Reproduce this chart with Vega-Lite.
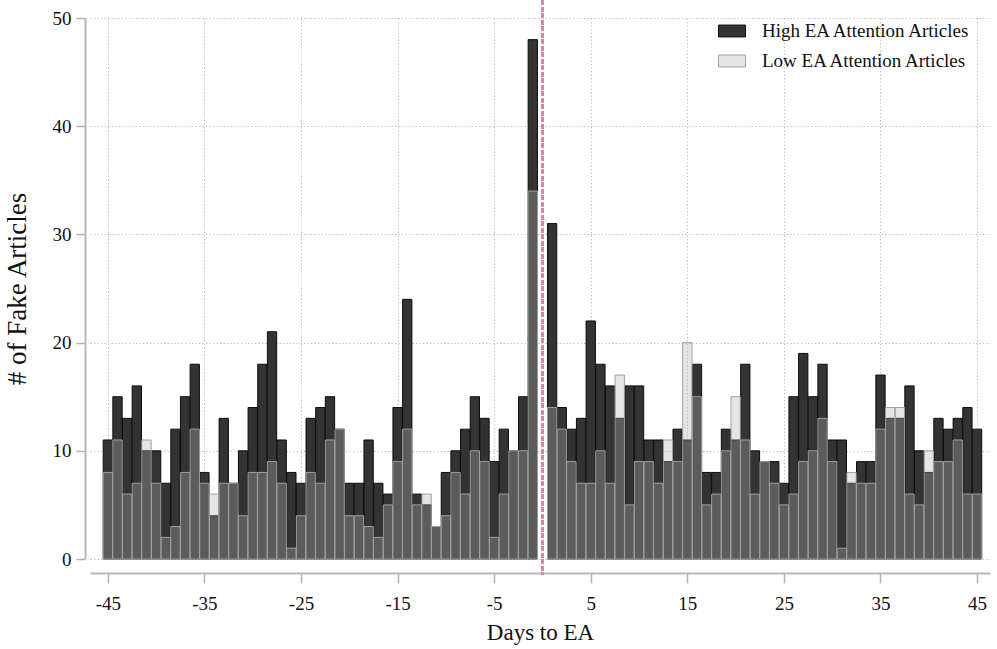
{
  "$schema": "https://vega.github.io/schema/vega-lite/v6.json",
  "autosize": "none",
  "width": 900,
  "height": 541,
  "padding": {"left": 90, "top": 18, "right": 7, "bottom": 90},
  "background": "white",
  "config": {
    "view": {"stroke": null},
    "font": "Liberation Serif",
    "axis": {
      "labelFont": "Liberation Serif",
      "titleFont": "Liberation Serif",
      "labelColor": "#111111",
      "titleColor": "#111111",
      "labelFontSize": 19,
      "titleFontSize": 23,
      "titleFontWeight": "normal",
      "domainColor": "#b8b8b8",
      "domainWidth": 2,
      "tickColor": "#b0b0b0",
      "tickWidth": 1.5,
      "tickSize": 10,
      "grid": true,
      "gridColor": "#bdbdbd",
      "gridDash": [1.3, 2.2],
      "gridWidth": 1,
      "labelExpr": "'' + datum.value"
    },
    "legend": {
      "labelFont": "Liberation Serif",
      "labelFontSize": 19,
      "labelColor": "#111111",
      "labelLimit": 0
    }
  },
  "data": {
    "values": [
      {"day": -45, "group": "High EA Attention Articles", "n": 11},
      {"day": -44, "group": "High EA Attention Articles", "n": 15},
      {"day": -43, "group": "High EA Attention Articles", "n": 13},
      {"day": -42, "group": "High EA Attention Articles", "n": 16},
      {"day": -41, "group": "High EA Attention Articles", "n": 10},
      {"day": -40, "group": "High EA Attention Articles", "n": 10},
      {"day": -39, "group": "High EA Attention Articles", "n": 7},
      {"day": -38, "group": "High EA Attention Articles", "n": 12},
      {"day": -37, "group": "High EA Attention Articles", "n": 15},
      {"day": -36, "group": "High EA Attention Articles", "n": 18},
      {"day": -35, "group": "High EA Attention Articles", "n": 8},
      {"day": -34, "group": "High EA Attention Articles", "n": 4},
      {"day": -33, "group": "High EA Attention Articles", "n": 13},
      {"day": -32, "group": "High EA Attention Articles", "n": 7},
      {"day": -31, "group": "High EA Attention Articles", "n": 10},
      {"day": -30, "group": "High EA Attention Articles", "n": 14},
      {"day": -29, "group": "High EA Attention Articles", "n": 18},
      {"day": -28, "group": "High EA Attention Articles", "n": 21},
      {"day": -27, "group": "High EA Attention Articles", "n": 11},
      {"day": -26, "group": "High EA Attention Articles", "n": 8},
      {"day": -25, "group": "High EA Attention Articles", "n": 7},
      {"day": -24, "group": "High EA Attention Articles", "n": 13},
      {"day": -23, "group": "High EA Attention Articles", "n": 14},
      {"day": -22, "group": "High EA Attention Articles", "n": 15},
      {"day": -21, "group": "High EA Attention Articles", "n": 12},
      {"day": -20, "group": "High EA Attention Articles", "n": 7},
      {"day": -19, "group": "High EA Attention Articles", "n": 7},
      {"day": -18, "group": "High EA Attention Articles", "n": 11},
      {"day": -17, "group": "High EA Attention Articles", "n": 7},
      {"day": -16, "group": "High EA Attention Articles", "n": 6},
      {"day": -15, "group": "High EA Attention Articles", "n": 14},
      {"day": -14, "group": "High EA Attention Articles", "n": 24},
      {"day": -13, "group": "High EA Attention Articles", "n": 6},
      {"day": -12, "group": "High EA Attention Articles", "n": 5},
      {"day": -11, "group": "High EA Attention Articles", "n": 3},
      {"day": -10, "group": "High EA Attention Articles", "n": 8},
      {"day": -9, "group": "High EA Attention Articles", "n": 10},
      {"day": -8, "group": "High EA Attention Articles", "n": 12},
      {"day": -7, "group": "High EA Attention Articles", "n": 15},
      {"day": -6, "group": "High EA Attention Articles", "n": 13},
      {"day": -5, "group": "High EA Attention Articles", "n": 9},
      {"day": -4, "group": "High EA Attention Articles", "n": 12},
      {"day": -3, "group": "High EA Attention Articles", "n": 10},
      {"day": -2, "group": "High EA Attention Articles", "n": 15},
      {"day": -1, "group": "High EA Attention Articles", "n": 48},
      {"day": 1, "group": "High EA Attention Articles", "n": 31},
      {"day": 2, "group": "High EA Attention Articles", "n": 14},
      {"day": 3, "group": "High EA Attention Articles", "n": 12},
      {"day": 4, "group": "High EA Attention Articles", "n": 13},
      {"day": 5, "group": "High EA Attention Articles", "n": 22},
      {"day": 6, "group": "High EA Attention Articles", "n": 18},
      {"day": 7, "group": "High EA Attention Articles", "n": 16},
      {"day": 8, "group": "High EA Attention Articles", "n": 13},
      {"day": 9, "group": "High EA Attention Articles", "n": 16},
      {"day": 10, "group": "High EA Attention Articles", "n": 16},
      {"day": 11, "group": "High EA Attention Articles", "n": 11},
      {"day": 12, "group": "High EA Attention Articles", "n": 11},
      {"day": 13, "group": "High EA Attention Articles", "n": 9},
      {"day": 14, "group": "High EA Attention Articles", "n": 12},
      {"day": 15, "group": "High EA Attention Articles", "n": 11},
      {"day": 16, "group": "High EA Attention Articles", "n": 18},
      {"day": 17, "group": "High EA Attention Articles", "n": 8},
      {"day": 18, "group": "High EA Attention Articles", "n": 8},
      {"day": 19, "group": "High EA Attention Articles", "n": 12},
      {"day": 20, "group": "High EA Attention Articles", "n": 11},
      {"day": 21, "group": "High EA Attention Articles", "n": 18},
      {"day": 22, "group": "High EA Attention Articles", "n": 10},
      {"day": 23, "group": "High EA Attention Articles", "n": 9},
      {"day": 24, "group": "High EA Attention Articles", "n": 9},
      {"day": 25, "group": "High EA Attention Articles", "n": 7},
      {"day": 26, "group": "High EA Attention Articles", "n": 15},
      {"day": 27, "group": "High EA Attention Articles", "n": 19},
      {"day": 28, "group": "High EA Attention Articles", "n": 15},
      {"day": 29, "group": "High EA Attention Articles", "n": 18},
      {"day": 30, "group": "High EA Attention Articles", "n": 11},
      {"day": 31, "group": "High EA Attention Articles", "n": 11},
      {"day": 32, "group": "High EA Attention Articles", "n": 7},
      {"day": 33, "group": "High EA Attention Articles", "n": 9},
      {"day": 34, "group": "High EA Attention Articles", "n": 9},
      {"day": 35, "group": "High EA Attention Articles", "n": 17},
      {"day": 36, "group": "High EA Attention Articles", "n": 13},
      {"day": 37, "group": "High EA Attention Articles", "n": 13},
      {"day": 38, "group": "High EA Attention Articles", "n": 16},
      {"day": 39, "group": "High EA Attention Articles", "n": 10},
      {"day": 40, "group": "High EA Attention Articles", "n": 8},
      {"day": 41, "group": "High EA Attention Articles", "n": 13},
      {"day": 42, "group": "High EA Attention Articles", "n": 12},
      {"day": 43, "group": "High EA Attention Articles", "n": 13},
      {"day": 44, "group": "High EA Attention Articles", "n": 14},
      {"day": 45, "group": "High EA Attention Articles", "n": 12},
      {"day": -45, "group": "Low EA Attention Articles", "n": 8},
      {"day": -44, "group": "Low EA Attention Articles", "n": 11},
      {"day": -43, "group": "Low EA Attention Articles", "n": 6},
      {"day": -42, "group": "Low EA Attention Articles", "n": 7},
      {"day": -41, "group": "Low EA Attention Articles", "n": 11},
      {"day": -40, "group": "Low EA Attention Articles", "n": 7},
      {"day": -39, "group": "Low EA Attention Articles", "n": 2},
      {"day": -38, "group": "Low EA Attention Articles", "n": 3},
      {"day": -37, "group": "Low EA Attention Articles", "n": 8},
      {"day": -36, "group": "Low EA Attention Articles", "n": 12},
      {"day": -35, "group": "Low EA Attention Articles", "n": 7},
      {"day": -34, "group": "Low EA Attention Articles", "n": 6},
      {"day": -33, "group": "Low EA Attention Articles", "n": 7},
      {"day": -32, "group": "Low EA Attention Articles", "n": 7},
      {"day": -31, "group": "Low EA Attention Articles", "n": 4},
      {"day": -30, "group": "Low EA Attention Articles", "n": 8},
      {"day": -29, "group": "Low EA Attention Articles", "n": 8},
      {"day": -28, "group": "Low EA Attention Articles", "n": 9},
      {"day": -27, "group": "Low EA Attention Articles", "n": 7},
      {"day": -26, "group": "Low EA Attention Articles", "n": 1},
      {"day": -25, "group": "Low EA Attention Articles", "n": 4},
      {"day": -24, "group": "Low EA Attention Articles", "n": 8},
      {"day": -23, "group": "Low EA Attention Articles", "n": 7},
      {"day": -22, "group": "Low EA Attention Articles", "n": 11},
      {"day": -21, "group": "Low EA Attention Articles", "n": 12},
      {"day": -20, "group": "Low EA Attention Articles", "n": 4},
      {"day": -19, "group": "Low EA Attention Articles", "n": 4},
      {"day": -18, "group": "Low EA Attention Articles", "n": 3},
      {"day": -17, "group": "Low EA Attention Articles", "n": 2},
      {"day": -16, "group": "Low EA Attention Articles", "n": 5},
      {"day": -15, "group": "Low EA Attention Articles", "n": 9},
      {"day": -14, "group": "Low EA Attention Articles", "n": 12},
      {"day": -13, "group": "Low EA Attention Articles", "n": 5},
      {"day": -12, "group": "Low EA Attention Articles", "n": 6},
      {"day": -11, "group": "Low EA Attention Articles", "n": 3},
      {"day": -10, "group": "Low EA Attention Articles", "n": 4},
      {"day": -9, "group": "Low EA Attention Articles", "n": 8},
      {"day": -8, "group": "Low EA Attention Articles", "n": 6},
      {"day": -7, "group": "Low EA Attention Articles", "n": 10},
      {"day": -6, "group": "Low EA Attention Articles", "n": 9},
      {"day": -5, "group": "Low EA Attention Articles", "n": 2},
      {"day": -4, "group": "Low EA Attention Articles", "n": 6},
      {"day": -3, "group": "Low EA Attention Articles", "n": 10},
      {"day": -2, "group": "Low EA Attention Articles", "n": 10},
      {"day": -1, "group": "Low EA Attention Articles", "n": 34},
      {"day": 1, "group": "Low EA Attention Articles", "n": 14},
      {"day": 2, "group": "Low EA Attention Articles", "n": 12},
      {"day": 3, "group": "Low EA Attention Articles", "n": 9},
      {"day": 4, "group": "Low EA Attention Articles", "n": 7},
      {"day": 5, "group": "Low EA Attention Articles", "n": 7},
      {"day": 6, "group": "Low EA Attention Articles", "n": 10},
      {"day": 7, "group": "Low EA Attention Articles", "n": 7},
      {"day": 8, "group": "Low EA Attention Articles", "n": 17},
      {"day": 9, "group": "Low EA Attention Articles", "n": 5},
      {"day": 10, "group": "Low EA Attention Articles", "n": 9},
      {"day": 11, "group": "Low EA Attention Articles", "n": 9},
      {"day": 12, "group": "Low EA Attention Articles", "n": 7},
      {"day": 13, "group": "Low EA Attention Articles", "n": 11},
      {"day": 14, "group": "Low EA Attention Articles", "n": 9},
      {"day": 15, "group": "Low EA Attention Articles", "n": 20},
      {"day": 16, "group": "Low EA Attention Articles", "n": 15},
      {"day": 17, "group": "Low EA Attention Articles", "n": 5},
      {"day": 18, "group": "Low EA Attention Articles", "n": 6},
      {"day": 19, "group": "Low EA Attention Articles", "n": 10},
      {"day": 20, "group": "Low EA Attention Articles", "n": 15},
      {"day": 21, "group": "Low EA Attention Articles", "n": 11},
      {"day": 22, "group": "Low EA Attention Articles", "n": 6},
      {"day": 23, "group": "Low EA Attention Articles", "n": 9},
      {"day": 24, "group": "Low EA Attention Articles", "n": 7},
      {"day": 25, "group": "Low EA Attention Articles", "n": 5},
      {"day": 26, "group": "Low EA Attention Articles", "n": 6},
      {"day": 27, "group": "Low EA Attention Articles", "n": 9},
      {"day": 28, "group": "Low EA Attention Articles", "n": 10},
      {"day": 29, "group": "Low EA Attention Articles", "n": 13},
      {"day": 30, "group": "Low EA Attention Articles", "n": 9},
      {"day": 31, "group": "Low EA Attention Articles", "n": 1},
      {"day": 32, "group": "Low EA Attention Articles", "n": 8},
      {"day": 33, "group": "Low EA Attention Articles", "n": 7},
      {"day": 34, "group": "Low EA Attention Articles", "n": 7},
      {"day": 35, "group": "Low EA Attention Articles", "n": 12},
      {"day": 36, "group": "Low EA Attention Articles", "n": 14},
      {"day": 37, "group": "Low EA Attention Articles", "n": 14},
      {"day": 38, "group": "Low EA Attention Articles", "n": 6},
      {"day": 39, "group": "Low EA Attention Articles", "n": 5},
      {"day": 40, "group": "Low EA Attention Articles", "n": 10},
      {"day": 41, "group": "Low EA Attention Articles", "n": 9},
      {"day": 42, "group": "Low EA Attention Articles", "n": 9},
      {"day": 43, "group": "Low EA Attention Articles", "n": 11},
      {"day": 44, "group": "Low EA Attention Articles", "n": 6},
      {"day": 45, "group": "Low EA Attention Articles", "n": 6}
    ]
  },
  "layer": [
    {
      "mark": {"type": "bar", "width": 9.3, "strokeWidth": 1},
      "encoding": {
        "x": {
          "field": "day",
          "type": "quantitative",
          "scale": {"domain": [-46.33, 45.82], "nice": false, "zero": false},
          "axis": {
            "title": "Days to EA",
            "values": [-45, -35, -25, -15, -5, 5, 15, 25, 35, 45],
            "offset": 14,
            "labelPadding": 11,
            "titlePadding": 8
          }
        },
        "y": {
          "field": "n",
          "type": "quantitative",
          "stack": null,
          "scale": {"domain": [0, 50], "nice": false},
          "axis": {
            "title": "# of Fake Articles",
            "titleFontSize": 27,
            "values": [0, 10, 20, 30, 40, 50],
            "offset": 5,
            "tickSize": 9,
            "labelPadding": 5,
            "titlePadding": 21
          }
        },
        "fill": {
          "field": "group",
          "type": "nominal",
          "scale": {
            "domain": ["High EA Attention Articles", "Low EA Attention Articles"],
            "range": ["#333333", "#b0b0b0"]
          },
          "legend": {
            "title": null,
            "orient": "none",
            "legendX": 628,
            "legendY": -1,
            "symbolType": "M-1,-0.44H1V0.44H-1Z",
            "symbolSize": 729,
            "symbolStrokeWidth": 1,
            "rowPadding": 6,
            "labelOffset": 16,
            "encode": {
              "symbols": {
                "update": {
                  "fillOpacity": {"signal": "datum.value === 'Low EA Attention Articles' ? 0.33 : 1"},
                  "stroke": {"signal": "datum.value === 'Low EA Attention Articles' ? '#a0a0a0' : '#0d0d0d'"}
                }
              }
            }
          }
        },
        "stroke": {
          "field": "group",
          "type": "nominal",
          "scale": {
            "domain": ["High EA Attention Articles", "Low EA Attention Articles"],
            "range": ["#0d0d0d", "#a0a0a0"]
          },
          "legend": null
        },
        "fillOpacity": {
          "field": "group",
          "type": "nominal",
          "scale": {
            "domain": ["High EA Attention Articles", "Low EA Attention Articles"],
            "range": [1, 0.33]
          },
          "legend": null
        }
      }
    },
    {
      "mark": {"type": "rule", "color": "#d585b0", "strokeDash": [4, 2.5], "strokeWidth": 1.5},
      "encoding": {
        "x": {"datum": 0},
        "y": {"datum": 51.6},
        "y2": {"datum": -1.4}
      }
    }
  ]
}
